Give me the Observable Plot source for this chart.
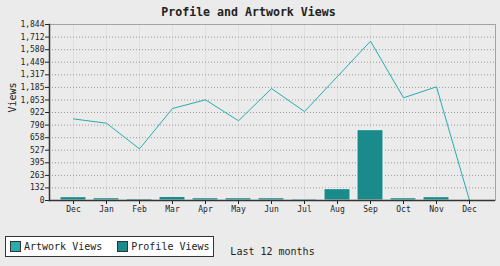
<!DOCTYPE html>
<html>
<head>
<meta charset="utf-8">
<script src="https://cdn.jsdelivr.net/npm/d3@7"></script>
<script src="https://cdn.jsdelivr.net/npm/@observablehq/plot@0.6"></script>
<style>
  html, body { margin: 0; padding: 0; background: #ebebeb; }
  #wrap { position: relative; width: 500px; height: 266px; background: #ebebeb; font-family: "DejaVu Sans Mono", monospace; color: #222; }
  #title { position: absolute; left: 0; top: 4px; width: 497px; text-align: center; font-weight: bold; font-size: 11.6px; line-height: 16px; }
  #legend { position: absolute; left: 5px; top: 236px; width: 207px; height: 19px; background: #fff; border: 1px solid #333; display: flex; align-items: center; font-size: 10px; white-space: nowrap; overflow: visible; }
  .item { display: flex; align-items: center; flex-shrink: 0; white-space: nowrap; margin-left: 4px; }
  .item + .item { margin-left: 15px; }
  .sw { width: 9px; height: 9px; border: 1px solid #333; margin-right: 3px; flex-shrink: 0; }
  svg { position: absolute; left: 0; top: 0; }
</style>
</head>
<body>
<div id="wrap">
  <div id="chart"></div>
  <div id="title"></div>
  <div id="legend"></div>
</div>
<script>
const titleText = "Profile and Artwork Views";
const months = ["Dec","Jan","Feb","Mar","Apr","May","Jun","Jul","Aug","Sep","Oct","Nov","Dec"];
const artworkViews = [855, 810, 541, 964, 1055, 835, 1173, 932, 1300, 1669, 1076, 1191, 0];
const profileViews = [35, 24, 17, 38, 24, 24, 24, 14, 119, 737, 24, 35, 0];
const yTicks = [0,132,263,395,527,658,790,922,1053,1185,1317,1449,1580,1712,1844];
const seriesNames = ["Artwork Views", "Profile Views"];
const seriesColors = ["#27adad", "#1b8a8a"];
const xLabel = "Last 12 months";
const yLabel = "Views";

const data = months.map((m, i) => ({i, m, artwork: artworkViews[i], profile: profileViews[i]}));
const idx = data.map(d => d.i);

const chart = Plot.plot({
  width: 500,
  height: 266,
  marginTop: 24,
  marginBottom: 66,
  marginLeft: 49,
  marginRight: 5,
  style: {fontFamily: "DejaVu Sans Mono, monospace", fontSize: "8px", color: "#222", background: "transparent"},
  x: {type: "band", domain: idx, paddingInner: 0.2, paddingOuter: 0.1, insetLeft: 3.1, insetRight: 4.1,
      tickFormat: i => months[i], tickSize: 4, tickPadding: 2, label: null},
  y: {domain: [0, 1844], ticks: yTicks, tickFormat: d3.format(","), tickSize: 4, tickPadding: 1, label: null},
  marks: [
    Plot.ruleX(idx, {x: d => d, stroke: "#e0e0e0", strokeWidth: 1}),
    Plot.ruleY(yTicks.filter(t => t > 0 && t < 1844), {stroke: "#999", strokeDasharray: "1,2", strokeWidth: 1}),
    Plot.frame({stroke: "#a3a3a3", strokeWidth: 1}),
    Plot.barY(data, {x: "i", y: "profile", fill: seriesColors[1], stroke: "#f4f4f4", strokeWidth: 1}),
    Plot.lineY(data, {x: "i", y: "artwork", stroke: seriesColors[0], strokeWidth: 1}),
    Plot.frame({anchor: "left", stroke: "#333", strokeWidth: 1.5}),
    Plot.ruleY([0], {stroke: "#333", strokeWidth: 1.5}),
    Plot.text([xLabel], {frameAnchor: "bottom", dy: 54, fontSize: 10, fill: "#222"}),
    Plot.text([yLabel], {frameAnchor: "left", dx: -37, rotate: -90, fontSize: 10, fill: "#222"})
  ]
});
document.getElementById("chart").appendChild(chart);

document.getElementById("title").textContent = titleText;
const legend = document.getElementById("legend");
seriesNames.forEach((name, k) => {
  const item = document.createElement("div");
  item.className = "item";
  const sw = document.createElement("div");
  sw.className = "sw";
  sw.style.background = seriesColors[k];
  const lab = document.createElement("span");
  lab.textContent = name;
  item.appendChild(sw);
  item.appendChild(lab);
  legend.appendChild(item);
});
</script>
</body>
</html>
